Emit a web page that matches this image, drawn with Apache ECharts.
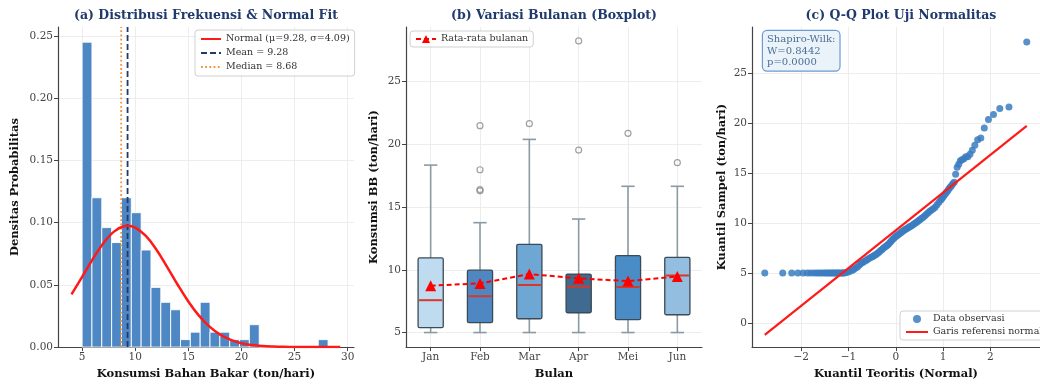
<!DOCTYPE html>
<html>
<head>
<meta charset="utf-8">
<script src="https://cdn.jsdelivr.net/npm/echarts@6/dist/echarts.min.js"></script>
<style>html,body{margin:0;padding:0;background:#fff}#c{width:1040px;height:385px}</style>
</head>
<body>
<div id="c"></div>
<script>
// ---------- DATA ----------
// (a) histogram (density per bin, 25 equal bins from 5.0 to 28.16)
const histStart = 5.0;
const histEnd = 28.16;
const histDensity = [0.245, 0.120, 0.096, 0.084, 0.120, 0.108, 0.078, 0.048, 0.036, 0.030,
  0.006, 0.012, 0.036, 0.012, 0.012, 0.006, 0.006, 0.018, 0, 0, 0, 0, 0, 0, 0.006];
// normal fit curve
const normX = [4, 5, 6, 7, 8, 9, 9.28, 10, 11, 12, 13, 14, 15, 16, 17, 18, 19, 20, 21, 22, 23, 24, 26, 28, 29.3];
const normY = [0.0424, 0.0564, 0.0707, 0.0835, 0.0928, 0.0973, 0.0975, 0.0960, 0.0893, 0.0782, 0.0645, 0.0501,
  0.0367, 0.0253, 0.0164, 0.0100, 0.0058, 0.0031, 0.0016, 0.0008, 0.0004, 0.0002, 0.0000, 0.0000, 0.0000];
const meanValue = 9.28;
const medianValue = 8.68;
const histXTicks = [5, 10, 15, 20, 25, 30];
const histYTicks = [0, 0.05, 0.10, 0.15, 0.20, 0.25];

// (b) monthly boxplot
const months = ['Jan', 'Feb', 'Mar', 'Apr', 'Mei', 'Jun'];
const boxMin = [5.0, 5.0, 5.0, 5.0, 5.0, 5.0];
const boxQ1 = [5.39, 5.79, 6.10, 6.58, 6.03, 6.42];
const boxMedian = [7.58, 7.90, 8.79, 8.66, 8.63, 9.55];
const boxQ3 = [10.95, 9.97, 12.03, 9.66, 11.13, 11.00];
const boxMax = [18.35, 13.76, 20.40, 14.05, 16.66, 16.66];
const monthMean = [8.74, 8.92, 9.66, 9.32, 9.10, 9.47];
const outlierMonth = ['Feb', 'Feb', 'Feb', 'Feb', 'Mar', 'Apr', 'Apr', 'Mei', 'Jun'];
const outlierValue = [16.30, 16.40, 17.98, 21.49, 21.65, 19.55, 28.25, 20.88, 18.54];
const boxYTicks = [5, 10, 15, 20, 25];

// (c) Q-Q plot
const qqTheoretical = [-2.77, -2.39, -2.20, -2.07, -1.96, -1.87, -1.80, -1.73, -1.67, -1.62, -1.57, -1.52, -1.48,
  -1.44, -1.40, -1.37, -1.33, -1.30, -1.27, -1.24, -1.21, -1.18, -1.15, -1.12, -1.10,
  -1.07, -1.02, -0.98, -0.93, -0.89, -0.85, -0.81, -0.77, -0.74, -0.70, -0.67, -0.63, -0.60, -0.57, -0.53,
  -0.50, -0.47, -0.44, -0.41, -0.38, -0.35, -0.32, -0.29, -0.26, -0.23, -0.20, -0.175, -0.147, -0.119,
  -0.091, -0.063, -0.035, -0.007, 0.021, 0.049, 0.077, 0.105, 0.133, 0.161, 0.189, 0.218, 0.246, 0.275,
  0.304, 0.334, 0.363, 0.393, 0.424, 0.454, 0.485, 0.516, 0.548, 0.581, 0.615, 0.649, 0.684, 0.719,
  0.755, 0.793, 0.832, 0.872, 0.913, 0.956,
  0.978, 1.001, 1.024, 1.049, 1.073, 1.098, 1.124, 1.150, 1.178, 1.206, 1.236, 1.266, 1.298, 1.331,
  1.365, 1.401, 1.440, 1.480, 1.523, 1.569, 1.618, 1.672, 1.732, 1.798, 1.872, 1.960, 2.066, 2.200, 2.394, 2.770];
const qqSample = [5.0, 5.0, 5.0, 5.0, 5.0, 5.0, 5.0, 5.0, 5.0, 5.0, 5.0, 5.0, 5.0,
  5.0, 5.0, 5.0, 5.0, 5.0, 5.0, 5.0, 5.0, 5.0, 5.0, 5.0, 5.0,
  5.02, 5.08, 5.15, 5.25, 5.35, 5.50, 5.62, 5.80, 5.95, 6.05, 6.15, 6.25, 6.35, 6.45, 6.55,
  6.63, 6.72, 6.80, 6.88, 7.00, 7.12, 7.25, 7.37, 7.50, 7.60, 7.72, 7.82, 7.95, 8.10,
  8.25, 8.40, 8.52, 8.65, 8.75, 8.85, 8.95, 9.05, 9.15, 9.25, 9.33, 9.42, 9.50, 9.58,
  9.66, 9.75, 9.85, 9.95, 10.05, 10.15, 10.27, 10.38, 10.50, 10.60, 10.75, 10.90, 11.05, 11.20,
  11.32, 11.45, 11.60, 11.85, 12.10, 12.35,
  12.50, 12.65, 12.80, 12.95, 13.10, 13.25, 13.45, 13.60, 13.75, 13.95, 14.10, 14.90, 15.60, 15.90,
  16.25, 16.35, 16.45, 16.66, 16.66, 16.90, 17.30, 17.80, 18.35, 18.54, 19.55, 20.40, 20.88, 21.50, 21.65, 28.16];
const refLineX = [-2.77, 2.77];
const refLineY = [-1.19, 19.75];
const qqXTicks = [-2, -1, 0, 1, 2];
const qqYTicks = [0, 5, 10, 15, 20, 25];

// ---------- STYLE ----------
const FONT = 'DejaVu Serif';
const TITLE_COLOR = '#1f3a6b';
const AXIS_COLOR = '#444';
const GRID_COLOR = '#e8e8e8';
const BOX_COLORS = ['#bedbf0', '#4f87c2', '#6fa7d4', '#3e6b8f', '#4a8dc6', '#93bedf'];
const NO_SYMBOL = { opacity: 0, color: 'rgba(0,0,0,0)', borderWidth: 0 };

// ---------- BUILD ----------
const chart = echarts.init(document.getElementById('c'), null, { renderer: 'canvas' });

const histItems = histDensity.map((d, i) => {
  const w = (histEnd - histStart) / histDensity.length;
  return [histStart + i * w, histStart + (i + 1) * w, d];
});
const normData = normX.map((x, i) => [x, normY[i]]);
const boxItems = months.map((m, i) => [i, boxMin[i], boxQ1[i], boxMedian[i], boxQ3[i], boxMax[i]]);
const outlierData = outlierMonth.map((m, i) => [m, outlierValue[i]]);
const qqData = qqTheoretical.map((x, i) => [x, qqSample[i]]);
const refData = refLineX.map((x, i) => [x, refLineY[i]]);

function axisCommon(extra) {
  return Object.assign({
    axisLine: { show: true, onZero: false, lineStyle: { color: AXIS_COLOR, width: 1.2 } },
    axisTick: { show: true, length: 4, lineStyle: { color: AXIS_COLOR } },
    axisLabel: { fontFamily: FONT, fontSize: 10.5, color: '#444', margin: 5 },
    splitLine: { show: true, lineStyle: { color: GRID_COLOR, width: 0.8 } },
    nameLocation: 'middle',
    nameTextStyle: { fontFamily: FONT, fontSize: 11.5, fontWeight: 'bold', color: '#111' }
  }, extra);
}
function customTicks(vals, fmt) {
  return {
    axisTick: { show: true, length: 4, lineStyle: { color: AXIS_COLOR }, customValues: vals },
    axisLabel: { fontFamily: FONT, fontSize: 10.5, color: '#444', margin: 5, customValues: vals, formatter: fmt }
  };
}

const option = {
  animation: false,
  backgroundColor: '#fff',
  grid: [
    { left: 58, top: 27, width: 296, bottom: 37 },
    { left: 406, top: 27, width: 296, bottom: 37 },
    { left: 752, top: 27, width: 300, bottom: 37 }
  ],
  xAxis: [
    axisCommon(Object.assign({ gridIndex: 0, type: 'value', min: 2.73, max: 30.6,
      name: 'Konsumsi Bahan Bakar (ton/hari)', nameGap: 19 }, customTicks(histXTicks, v => String(v)))),
    axisCommon({ gridIndex: 1, type: 'category', data: months, boundaryGap: true,
      name: 'Bulan', nameGap: 19,
      axisTick: { show: true, length: 4, alignWithLabel: true, lineStyle: { color: AXIS_COLOR } },
      splitLine: { show: true, alignWithLabel: true, lineStyle: { color: GRID_COLOR, width: 0.8 } } }),
    axisCommon(Object.assign({ gridIndex: 2, type: 'value', min: -3.04, max: 3.05,
      name: 'Kuantil Teoritis (Normal)', nameGap: 19 }, customTicks(qqXTicks, v => (v < 0 ? '\u2212' + Math.abs(v) : String(v)))))
  ],
  yAxis: [
    axisCommon(Object.assign({ gridIndex: 0, type: 'value', min: 0, max: 0.2572,
      name: 'Densitas Probabilitas', nameGap: 37 }, customTicks(histYTicks, v => v.toFixed(2)))),
    axisCommon(Object.assign({ gridIndex: 1, type: 'value', min: 3.84, max: 29.36,
      name: 'Konsumsi BB (ton/hari)', nameGap: 26 }, customTicks(boxYTicks, v => String(v)))),
    axisCommon(Object.assign({ gridIndex: 2, type: 'value', min: -2.42, max: 29.66,
      name: 'Kuantil Sampel (ton/hari)', nameGap: 24 }, customTicks(qqYTicks, v => String(v))))
  ],
  legend: [
    { orient: 'vertical', left: 195, top: 30, itemGap: 4, itemWidth: 20, itemHeight: 10,
      data: [
        { name: 'Normal (\u03bc=9.28, \u03c3=4.09)', itemStyle: NO_SYMBOL },
        { name: 'Mean = 9.28', itemStyle: NO_SYMBOL },
        { name: 'Median = 8.68', itemStyle: NO_SYMBOL }
      ],
      textStyle: { fontFamily: FONT, fontSize: 9.5, color: '#333' },
      backgroundColor: 'rgba(255,255,255,0.85)', borderColor: '#d0d0d0', borderWidth: 1, borderRadius: 3, padding: [4, 5] },
    { orient: 'vertical', left: 410, top: 31, itemWidth: 20, itemHeight: 10,
      data: ['Rata-rata bulanan'],
      textStyle: { fontFamily: FONT, fontSize: 9.5, color: '#333' },
      backgroundColor: 'rgba(255,255,255,0.85)', borderColor: '#d0d0d0', borderWidth: 1, borderRadius: 3, padding: [3, 5] },
    { orient: 'vertical', left: 900, top: 311, itemGap: 3, itemWidth: 22, itemHeight: 8,
      data: ['Data observasi', { name: 'Garis referensi normal', itemStyle: NO_SYMBOL }],
      textStyle: { fontFamily: FONT, fontSize: 9.5, color: '#333' },
      backgroundColor: 'rgba(255,255,255,0.85)', borderColor: '#d0d0d0', borderWidth: 1, borderRadius: 3, padding: [3, 5] }
  ],
  graphic: [
    { type: 'text', x: 206, y: 16, style: { text: '(a) Distribusi Frekuensi & Normal Fit', align: 'center', verticalAlign: 'middle',
      font: 'bold 12.5px "DejaVu Serif"', fill: TITLE_COLOR } },
    { type: 'text', x: 554, y: 16, style: { text: '(b) Variasi Bulanan (Boxplot)', align: 'center', verticalAlign: 'middle',
      font: 'bold 12.5px "DejaVu Serif"', fill: TITLE_COLOR } },
    { type: 'text', x: 901, y: 16, style: { text: '(c) Q-Q Plot Uji Normalitas', align: 'center', verticalAlign: 'middle',
      font: 'bold 12.5px "DejaVu Serif"', fill: TITLE_COLOR } },
    { type: 'text', x: 763, y: 31, z: 100, style: { text: 'Shapiro-Wilk:\nW=0.8442\np=0.0000',
      font: '10px "DejaVu Serif"', fill: '#4d6f92', lineHeight: 11.5,
      backgroundColor: '#eaf2fa', borderColor: '#6b9bd1', borderWidth: 1.2, borderRadius: 4, padding: [3, 4, 2, 4] } }
  ],
  series: [
    { name: 'hist', type: 'custom', xAxisIndex: 0, yAxisIndex: 0, data: histItems, z: 2,
      encode: { x: [0, 1], y: 2 },
      renderItem: function (params, api) {
        const p0 = api.coord([api.value(0), api.value(2)]);
        const p1 = api.coord([api.value(1), 0]);
        return { type: 'rect', shape: { x: p0[0], y: p0[1], width: p1[0] - p0[0], height: p1[1] - p0[1] },
          style: { fill: '#4d87c4', stroke: '#ffffff', lineWidth: 0.9 } };
      } },
    { name: 'Normal (\u03bc=9.28, \u03c3=4.09)', type: 'line', xAxisIndex: 0, yAxisIndex: 0, data: normData,
      smooth: 0.4, symbol: 'none', z: 5, color: '#ff1a1a', lineStyle: { color: '#ff1a1a', width: 2.5 } },
    { name: 'Mean = 9.28', type: 'line', xAxisIndex: 0, yAxisIndex: 0, data: [[meanValue, 0], [meanValue, 0.2572]],
      symbol: 'none', z: 4, color: '#1f3a6b', lineStyle: { color: '#1f3a6b', width: 1.8, type: [6, 3] } },
    { name: 'Median = 8.68', type: 'line', xAxisIndex: 0, yAxisIndex: 0, data: [[medianValue, 0], [medianValue, 0.2572]],
      symbol: 'none', z: 4, color: '#f39237', lineStyle: { color: '#f39237', width: 1.8, type: [1.8, 2.4] } },

    { name: 'box', type: 'custom', xAxisIndex: 1, yAxisIndex: 1, data: boxItems, z: 3,
      encode: { x: 0, y: [1, 2, 3, 4, 5] },
      renderItem: function (params, api) {
        const i = api.value(0);
        const band = api.size([1, 0])[0];
        const hw = band * 0.255, cw = band * 0.135;
        const pMin = api.coord([i, api.value(1)]);
        const pQ1 = api.coord([i, api.value(2)]);
        const pMed = api.coord([i, api.value(3)]);
        const pQ3 = api.coord([i, api.value(4)]);
        const pMax = api.coord([i, api.value(5)]);
        const x = pMin[0];
        const ws = { stroke: '#8a9aa4', lineWidth: 1.6 };
        return { type: 'group', children: [
          { type: 'line', shape: { x1: x, y1: pQ1[1], x2: x, y2: pMin[1] }, style: ws },
          { type: 'line', shape: { x1: x, y1: pQ3[1], x2: x, y2: pMax[1] }, style: ws },
          { type: 'line', shape: { x1: x - cw, y1: pMin[1], x2: x + cw, y2: pMin[1] }, style: ws },
          { type: 'line', shape: { x1: x - cw, y1: pMax[1], x2: x + cw, y2: pMax[1] }, style: ws },
          { type: 'rect', shape: { x: x - hw, y: pQ3[1], width: 2 * hw, height: pQ1[1] - pQ3[1], r: 1.5 },
            style: { fill: BOX_COLORS[i], stroke: '#3b4a56', lineWidth: 1.3 } },
          { type: 'line', shape: { x1: x - hw + 1, y1: pMed[1], x2: x + hw - 1, y2: pMed[1] },
            style: { stroke: '#d8372c', lineWidth: 2 } }
        ] };
      } },
    { name: 'outliers', type: 'scatter', xAxisIndex: 1, yAxisIndex: 1, data: outlierData, z: 4,
      symbol: 'circle', symbolSize: 6,
      itemStyle: { color: 'rgba(255,255,255,0)', borderColor: '#8a8a8a', borderWidth: 1.2 } },
    { name: 'Rata-rata bulanan', type: 'line', xAxisIndex: 1, yAxisIndex: 1, data: monthMean, z: 6,
      symbol: 'triangle', symbolSize: 11, color: '#ff0000',
      itemStyle: { color: '#ff0000' }, lineStyle: { color: '#ff0000', width: 2, type: [5, 3] } },

    { name: 'Data observasi', type: 'scatter', xAxisIndex: 2, yAxisIndex: 2, data: qqData, z: 4,
      symbol: 'circle', symbolSize: 7, color: '#3b7dbf', itemStyle: { color: '#3b7dbf', opacity: 0.85 } },
    { name: 'Garis referensi normal', type: 'line', xAxisIndex: 2, yAxisIndex: 2, data: refData, z: 5,
      symbol: 'none', color: '#ff1a1a', lineStyle: { color: '#ff1a1a', width: 2.2 } }
  ]
};
chart.setOption(option);
</script>
</body>
</html>
